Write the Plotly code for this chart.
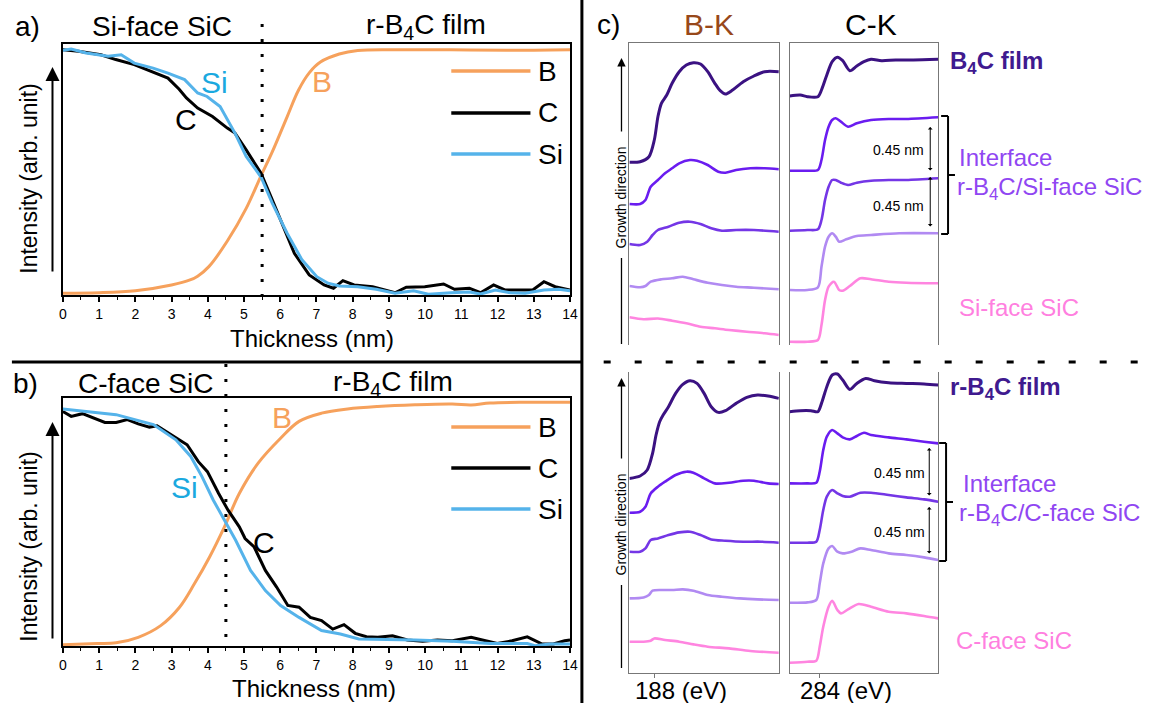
import plotly.graph_objects as go

W, H = 1150, 703
FONT = "Liberation Sans, Arial, sans-serif"

# ---------------- Panel a (Si-face) depth profiles ----------------
a_B_x = [0, 1.0, 2.0, 3.0, 3.51, 3.72, 4.03, 4.54, 5.06, 5.47, 5.78, 6.19, 6.5, 6.8, 7.11, 7.63, 8.14, 9.17, 10.71, 12.25, 14]
a_B_y = [0.007, 0.009, 0.017, 0.040, 0.060, 0.075, 0.113, 0.215, 0.345, 0.475, 0.570, 0.710, 0.815, 0.885, 0.928, 0.960, 0.974, 0.977, 0.977, 0.975, 0.977]

a_C_x = [0, 0.43, 1.05, 1.46, 1.97, 2.38, 2.90, 3.21, 3.41, 3.72, 4.13, 4.54, 4.75, 5.06, 5.47, 5.78, 6.08, 6.39, 6.80,
         7.21, 7.47, 7.73, 8.04, 8.55, 9.17, 9.48, 9.99, 10.51, 10.81, 11.22, 11.53, 11.89, 12.20, 12.97, 13.28, 13.59, 14]
a_C_y = [0.977, 0.971, 0.957, 0.938, 0.918, 0.895, 0.864, 0.820, 0.785, 0.745, 0.711, 0.665, 0.645, 0.578, 0.485, 0.379,
         0.273, 0.166, 0.080, 0.040, 0.027, 0.057, 0.040, 0.033, 0.009, 0.031, 0.033, 0.044, 0.023, 0.027, 0.009, 0.040,
         0.020, 0.020, 0.053, 0.033, 0.020]

a_Si_x = [0, 0.23, 0.64, 1.25, 1.61, 1.97, 2.49, 2.90, 3.36, 3.72, 3.98, 4.34, 4.75, 5.06, 5.47, 5.78, 6.19, 6.60, 7.01,
          7.32, 7.63, 8.14, 8.65, 9.17, 9.68, 10.09, 10.71, 11.22, 11.53, 11.94, 12.35, 12.76, 13.28, 13.69, 14]
a_Si_y = [0.975, 0.980, 0.964, 0.951, 0.957, 0.924, 0.904, 0.884, 0.858, 0.805, 0.791, 0.751, 0.645, 0.552, 0.470, 0.366,
          0.246, 0.140, 0.073, 0.047, 0.036, 0.033, 0.023, 0.007, 0.017, 0.003, 0.009, 0.012, 0.004, 0.020, 0.009, 0.007,
          0.020, 0.023, 0.017]

# ---------------- Panel b (C-face) depth profiles ----------------
b_B_x = [0, 0.95, 1.47, 2.08, 2.70, 3.22, 3.63, 4.05, 4.46, 4.87, 5.39, 6.01, 6.52, 7.14, 7.86, 8.69, 9.72, 10.75, 11.27, 11.79, 12.82, 14]
b_B_y = [0.008, 0.013, 0.016, 0.038, 0.085, 0.159, 0.253, 0.361, 0.482, 0.616, 0.738, 0.838, 0.906, 0.939, 0.956, 0.966,
         0.973, 0.976, 0.972, 0.980, 0.983, 0.983]

b_C_x = [0, 0.23, 0.54, 0.85, 1.16, 1.47, 1.78, 2.08, 2.39, 2.60, 2.91, 3.43, 3.74, 3.99, 4.30, 4.56, 4.87, 5.03, 5.28,
         5.59, 5.90, 6.21, 6.52, 6.83, 7.14, 7.45, 7.76, 8.07, 8.38, 8.69, 9.10, 9.51, 9.93, 10.34, 10.75, 11.27, 11.58,
         11.99, 12.40, 12.82, 13.23, 13.54, 13.85, 14]
b_C_y = [0.946, 0.926, 0.937, 0.919, 0.902, 0.902, 0.913, 0.896, 0.883, 0.888, 0.859, 0.812, 0.744, 0.704, 0.616, 0.549,
         0.482, 0.435, 0.401, 0.307, 0.240, 0.166, 0.159, 0.118, 0.105, 0.071, 0.089, 0.054, 0.040, 0.038, 0.044, 0.027,
         0.022, 0.027, 0.024, 0.038, 0.027, 0.013, 0.024, 0.040, 0.011, 0.011, 0.024, 0.027]

b_Si_x = [0, 1.47, 2.50, 3.12, 3.53, 3.84, 4.15, 4.46, 4.77, 5.18, 5.59, 6.01, 6.52, 7.14, 7.66, 8.17, 8.69, 9.72, 10.75,
          11.79, 12.82, 13.03, 13.44, 14]
b_Si_y = [0.956, 0.933, 0.893, 0.832, 0.765, 0.684, 0.590, 0.509, 0.428, 0.307, 0.226, 0.166, 0.118, 0.065, 0.051, 0.031,
          0.030, 0.027, 0.022, 0.013, 0.013, 0.004, 0.011, 0.011]

# ---------------- Panel c: XAS spectra (offset, arb. units) ----------------
# top: Si-face, B-K edge
tbk1_e = [186, 186.86, 187.57, 188.0, 188.29, 188.57, 189.0, 189.43, 190.0, 190.57, 191.14, 191.71, 192.29, 192.86, 193.29, 193.71, 194.29, 195.14, 196.0, 196.86, 198.0]
tbk1_i = [182.7, 183.3, 188.3, 205, 228.3, 241.7, 250, 261.7, 273.3, 280, 282.3, 281, 273.3, 261.7, 254.3, 251, 255, 263.3, 269, 273.3, 273.3]
tbk2_e = [186, 186.86, 187.29, 187.71, 188.29, 188.86, 189.43, 190, 190.86, 191.43, 192.29, 193.14, 193.71, 194.57, 195.71, 196.86, 198]
tbk2_i = [141, 141, 145, 158.3, 165, 171.7, 176.7, 181.7, 185, 184.3, 180, 173.3, 172.3, 175, 176.7, 176.7, 175.7]
tbk3_e = [186, 186.86, 187.43, 187.86, 188.29, 189.14, 190, 190.86, 191.71, 192.57, 193.43, 194.57, 196, 198]
tbk3_i = [101, 100, 103.3, 110, 115, 118.3, 122.3, 123.3, 121, 116.7, 114.3, 115, 115, 113.3]
tbk4_e = [186, 186.86, 187.29, 187.71, 188.57, 189.43, 190.29, 191.14, 192.29, 193.43, 194.57, 196, 198]
tbk4_i = [59, 57.7, 59, 63.3, 65.7, 66.7, 68.3, 65.7, 62.3, 60, 58.3, 57.3, 55.7]
tbk5_e = [186, 187.14, 188.29, 189.43, 190.57, 191.71, 192.86, 194, 195.43, 196.86, 198]
tbk5_i = [27.7, 25.7, 26.5, 24.3, 21.7, 18.3, 16.7, 15, 13.3, 11.7, 10]

# top: Si-face, C-K edge
tck1_e = [282, 282.71, 283.19, 283.9, 284.14, 284.5, 284.86, 285.21, 285.57, 286.05, 286.52, 287, 287.48, 288.19, 289.14, 290.33, 292]
tck1_i = [249, 250, 248.3, 248.3, 255, 270, 283.3, 287.7, 284.3, 274.3, 279, 283.3, 285.7, 284.3, 285, 285, 285.7]
tck2_e = [282, 283.19, 283.9, 284.14, 284.38, 284.62, 284.86, 285.1, 285.45, 285.93, 286.52, 287.48, 288.67, 289.86, 292]
tck2_i = [174.3, 174.3, 175, 185, 205, 218.3, 225, 226.7, 223.3, 218.3, 221.7, 225, 226, 226, 227.7]
tck3_e = [282, 283.19, 283.9, 284.14, 284.38, 284.62, 284.86, 285.1, 285.45, 285.93, 286.52, 287.48, 288.67, 289.86, 292]
tck3_i = [114.3, 115, 115.7, 125, 145, 158.3, 165, 165, 162.3, 160, 162.3, 164.3, 165, 165, 166.7]
tck4_e = [282, 283.19, 283.9, 284.14, 284.38, 284.62, 284.86, 285.1, 285.33, 285.81, 286.52, 287.48, 289.38, 292]
tck4_i = [55, 55, 57.7, 78.3, 98.3, 108.3, 111.7, 108.3, 103.3, 105.7, 109, 110, 111.7, 111.7]
tck5_e = [282, 283.19, 283.9, 284.14, 284.38, 284.62, 284.98, 285.33, 285.57, 286.05, 286.76, 287.48, 288.67, 289.86, 292]
tck5_i = [3.3, 3.3, 5, 20, 45, 58.3, 63.3, 55, 54.3, 59, 66.7, 65.7, 63.3, 62.3, 61.7]

# bottom: C-face, B-K edge
bbk1_e = [186, 186.86, 187.43, 187.86, 188.14, 188.43, 188.71, 189.14, 189.71, 190.29, 190.86, 191.43, 192, 192.57, 193.14, 193.71, 194.57, 195.43, 196.29, 197.14, 198]
bbk1_i = [194.3, 196.7, 202.7, 219.3, 237.7, 251, 257.7, 266, 279.3, 288.3, 292, 289.3, 279.3, 266, 260.3, 262, 269.3, 275.3, 277.7, 276.7, 274.3]
bbk2_e = [186, 186.86, 187.29, 187.71, 188.29, 188.86, 189.71, 190.57, 191.14, 192, 192.86, 194, 195.14, 196, 197.14, 198]
bbk2_i = [160, 161, 166, 179.3, 186, 191, 197.7, 201, 200, 194.3, 189.3, 190, 192, 192, 189.3, 188.7]
bbk3_e = [186, 186.86, 187.29, 187.71, 188.29, 189.14, 190, 190.86, 191.71, 192.57, 193.71, 195.14, 196.57, 198]
bbk3_i = [121, 121, 124.3, 132.7, 134.3, 137.7, 140.3, 141, 137.7, 133.3, 132, 131, 131, 130]
bbk4_e = [186, 187.14, 187.57, 187.86, 188.57, 189.43, 190.29, 191.14, 192.29, 193.43, 194.86, 196.29, 198]
bbk4_i = [74.3, 75.3, 77.7, 82, 82.7, 82.7, 83.3, 82, 77.7, 76, 74.3, 73.3, 72.7]
bbk5_e = [186, 187.14, 187.71, 188, 188.86, 190, 191.14, 192.29, 194, 195.71, 198]
bbk5_i = [31, 31, 32, 34.3, 32.7, 31, 28.3, 26, 24.3, 21.7, 20]

# bottom: C-face, C-K edge
bck1_e = [282, 282.71, 283.43, 283.9, 284.14, 284.5, 284.86, 285.21, 285.57, 286.05, 286.52, 287.12, 287.71, 288.67, 289.86, 291.05, 292]
bck1_i = [261, 262, 262, 261, 269.3, 286, 297.7, 298.7, 292.7, 283.3, 289.3, 294.3, 292, 290, 289.3, 288.7, 287.7]
bck2_e = [282, 283.19, 283.79, 284.02, 284.26, 284.5, 284.86, 285.21, 285.57, 286.05, 286.52, 287, 287.48, 288.67, 289.86, 291.05, 292]
bck2_i = [189.3, 189.3, 190, 201, 222.7, 236, 242.7, 239.3, 235.3, 233.3, 236.7, 240, 237.7, 235.3, 233.3, 231, 229.3]
bck3_e = [282, 283.19, 283.79, 284.02, 284.26, 284.5, 284.86, 285.21, 285.57, 286.05, 286.76, 287.48, 288.67, 289.86, 291.05, 292]
bck3_i = [130, 130, 131, 142.7, 162.7, 176, 182.7, 179.3, 176.7, 176, 180, 180, 177.7, 175.3, 173.3, 171]
bck4_e = [282, 283.19, 283.79, 284.02, 284.26, 284.62, 284.86, 285.21, 285.57, 286.17, 286.76, 287.48, 288.67, 289.86, 291.05, 292]
bck4_i = [70, 70.3, 72.7, 89.3, 109.3, 124.3, 126.7, 121, 119.3, 121, 124.3, 122.7, 119.3, 117.7, 115.3, 112.7]
bck5_e = [282, 283.19, 283.79, 284.02, 284.26, 284.62, 284.86, 285.21, 285.45, 285.93, 286.64, 287.48, 288.67, 289.86, 291.05, 292]
bck5_i = [10, 11, 12, 26, 46, 66, 72, 62.7, 59.3, 63.3, 68.7, 66, 61, 59.3, 56.7, 54.3]

BK_RANGE = [186, 198]
CK_RANGE = [282, 292]
BK_TICK = [188]
CK_TICK = [284]
BK_LABEL = "188 (eV)"
CK_LABEL = "284 (eV)"

ORANGE = "#f6a15c"
BLACK = "#000000"
BLUE = "#55b3ea"
SI_TXT = "#1aa9df"
SPEC_COLORS = ["#3b1282", "#6a1cf0", "#7436e6", "#b18af2", "#ff85e0"]
SPEC_WIDTHS = [3, 2.6, 2.6, 2.6, 2.6]
FILM_C = "#3f1a8f"
INTF_C = "#9046f2"
SIC_C = "#ff7fe0"
FRAME_C = "#777777"


def X(p):
    return p / W


def Y(p):
    return 1 - p / H


fig = go.Figure()

# profile traces
for xa, ya, xs, ys, col, shp in [
    ("x", "y", a_B_x, a_B_y, ORANGE, "spline"),
    ("x", "y", a_C_x, a_C_y, BLACK, "linear"),
    ("x", "y", a_Si_x, a_Si_y, BLUE, "linear"),
    ("x2", "y2", b_B_x, b_B_y, ORANGE, "spline"),
    ("x2", "y2", b_C_x, b_C_y, BLACK, "linear"),
    ("x2", "y2", b_Si_x, b_Si_y, BLUE, "linear"),
]:
    fig.add_trace(go.Scatter(x=xs, y=ys, mode="lines", xaxis=xa, yaxis=ya,
                             line=dict(color=col, width=3, shape=shp), showlegend=False, hoverinfo="skip"))

spectra = [
    ("x3", "y3", [(tbk1_e, tbk1_i), (tbk2_e, tbk2_i), (tbk3_e, tbk3_i), (tbk4_e, tbk4_i), (tbk5_e, tbk5_i)]),
    ("x4", "y4", [(tck1_e, tck1_i), (tck2_e, tck2_i), (tck3_e, tck3_i), (tck4_e, tck4_i), (tck5_e, tck5_i)]),
    ("x5", "y5", [(bbk1_e, bbk1_i), (bbk2_e, bbk2_i), (bbk3_e, bbk3_i), (bbk4_e, bbk4_i), (bbk5_e, bbk5_i)]),
    ("x6", "y6", [(bck1_e, bck1_i), (bck2_e, bck2_i), (bck3_e, bck3_i), (bck4_e, bck4_i), (bck5_e, bck5_i)]),
]
for xa, ya, curves in spectra:
    for k, (e, inten) in enumerate(curves):
        fig.add_trace(go.Scatter(x=e, y=inten, mode="lines", xaxis=xa, yaxis=ya,
                                 line=dict(color=SPEC_COLORS[k], width=SPEC_WIDTHS[k], shape="spline", smoothing=0.8),
                                 showlegend=False, hoverinfo="skip"))

prof_x = dict(range=[0, 14], showline=True, mirror=True, linecolor="black", linewidth=1.5,
              ticks="outside", ticklen=5, tickwidth=1.5, tickcolor="black", tick0=0, dtick=1,
              minor=dict(ticks="outside", ticklen=3, tickwidth=1.2, dtick=0.5, tickcolor="black"),
              tickfont=dict(size=14, family=FONT, color="black"), showgrid=False, zeroline=False)
prof_y = dict(range=[0, 1], showline=True, mirror=True, linecolor="black", linewidth=1.5,
              ticks="", showticklabels=False, showgrid=False, zeroline=False)

top_x = dict(showline=True, side="top", linecolor=FRAME_C, linewidth=1.3, ticks="", showticklabels=False,
             showgrid=False, zeroline=False)
bot_x = dict(showline=True, side="bottom", linecolor=FRAME_C, linewidth=1.3, ticks="outside", ticklen=4,
             tickcolor=FRAME_C, tickwidth=1.3, showticklabels=False, showgrid=False, zeroline=False)
spec_y = dict(showline=True, mirror=True, linecolor=FRAME_C, linewidth=1.3, ticks="", showticklabels=False,
              showgrid=False, zeroline=False)

fig.update_layout(
    width=W, height=H, margin=dict(l=0, r=0, t=0, b=0),
    paper_bgcolor="white", plot_bgcolor="white", showlegend=False,
    font=dict(family=FONT, color="black"),
    xaxis=dict(prof_x, domain=[X(59.5), X(572)], anchor="y"),
    yaxis=dict(prof_y, domain=[Y(295), Y(44)], anchor="x"),
    xaxis2=dict(prof_x, domain=[X(59.5), X(572)], anchor="y2"),
    yaxis2=dict(prof_y, range=[0.003, 1], domain=[Y(646), Y(398)], anchor="x2"),
    xaxis3=dict(top_x, range=BK_RANGE, domain=[X(632), X(783)], anchor="y3"),
    yaxis3=dict(spec_y, range=[0, 301.7], domain=[Y(345), Y(43.3)], anchor="x3"),
    xaxis4=dict(top_x, range=CK_RANGE, domain=[X(794), X(944)], anchor="y4"),
    yaxis4=dict(spec_y, range=[0, 301.7], domain=[Y(345), Y(43.3)], anchor="x4"),
    xaxis5=dict(bot_x, range=BK_RANGE, domain=[X(632), X(783)], anchor="y5", tickvals=BK_TICK),
    yaxis5=dict(spec_y, range=[0, 301], domain=[Y(672.7), Y(371.7)], anchor="x5"),
    xaxis6=dict(bot_x, range=CK_RANGE, domain=[X(794), X(944)], anchor="y6", tickvals=CK_TICK),
    yaxis6=dict(spec_y, range=[0, 301], domain=[Y(672.7), Y(371.7)], anchor="x6"),
)

shapes = []


def pline(x0, y0, x1, y1, color="black", width=2, dash=None):
    d = dict(color=color, width=width)
    if dash:
        d["dash"] = dash
    shapes.append(dict(type="line", xref="paper", yref="paper", x0=X(x0), y0=Y(y0), x1=X(x1), y1=Y(y1), line=d))


# separators
pline(584, 0, 584, 703, width=3)
pline(8, 362, 584, 362, width=3)
pline(606, 362, 1150, 362, width=3, dash="7px,24px")

# interface dotted lines (data x)
shapes.append(dict(type="line", xref="x", yref="paper", x0=5.5, x1=5.5, y0=Y(297), y1=Y(12),
                   line=dict(color="black", width=3, dash="3px,12px")))
shapes.append(dict(type="line", xref="x2", yref="paper", x0=4.5, x1=4.5, y0=Y(637), y1=Y(363),
                   line=dict(color="black", width=3, dash="3px,12px")))

# legends (drawn)
for yy, col in [(71, ORANGE), (113, BLACK), (154, BLUE)]:
    pline(452, yy, 532, yy, color=col, width=3.5)
for yy, col in [(427, ORANGE), (468, BLACK), (509, BLUE)]:
    pline(452, yy, 532, yy, color=col, width=3.5)

# growth-direction lower segments
pline(624, 258, 624, 344, width=1.3)
pline(624, 585, 624, 668, width=1.3)

# brackets
pline(954, 116, 954, 234, width=2)
pline(947, 116, 954, 116, width=2)
pline(947, 234, 954, 234, width=2)
pline(954, 175, 961, 175, width=2)
pline(952, 443, 952, 561, width=2)
pline(945, 443, 952, 443, width=2)
pline(945, 561, 952, 561, width=2)
pline(952, 502, 959, 502, width=2)

fig.update_layout(shapes=shapes)

ann = []


def ptext(text, x, y, size, color="black", xanchor="center", angle=0, bold=False):
    ann.append(dict(text=("<b>%s</b>" % text) if bold else text, x=X(x), y=Y(y), xref="paper", yref="paper",
                    showarrow=False, xanchor=xanchor, yanchor="middle", textangle=angle,
                    font=dict(size=size, color=color, family=FONT)))


def parrow(x, y_head, length, width=2, size=1.2, head=2):
    ann.append(dict(text="", x=X(x), y=Y(y_head), xref="paper", yref="paper", ax=0, ay=length,
                    axref="pixel", ayref="pixel", showarrow=True, arrowhead=head, arrowsize=size,
                    arrowwidth=width, arrowcolor="black"))


def pdarrow(x, y_top, y_bot):
    ann.append(dict(text="", x=X(x), y=Y(y_top), xref="paper", yref="paper", ax=0, ay=y_bot - y_top,
                    axref="pixel", ayref="pixel", showarrow=True, arrowhead=1, arrowsize=0.8,
                    arrowwidth=1, arrowside="end+start", arrowcolor="black"))


# panel a
ptext("a)", 24, 27, 28)
ptext("Si-face SiC", 160, 27, 28)
ptext("r-B<sub>4</sub>C film", 426, 27, 28)
ptext("Intensity (arb. unit)", 25, 179, 23, angle=-90)
ptext("Thickness (nm)", 311, 338, 24)
parrow(49, 67, 206, width=2, size=1.4)
for t, yy in [("B", 71), ("C", 113), ("Si", 154)]:
    ptext(t, 538, yy, 28, xanchor="left")
# panel b
ptext("b)", 22, 383, 28)
ptext("C-face SiC", 143, 383, 28)
ptext("r-B<sub>4</sub>C film", 393, 383, 28)
ptext("Intensity (arb. unit)", 25, 547, 23, angle=-90)
ptext("Thickness (nm)", 313, 688, 24)
parrow(49, 422, 218, width=2, size=1.4)
for t, yy in [("B", 427), ("C", 468), ("Si", 509)]:
    ptext(t, 538, yy, 28, xanchor="left")

# in-plot element labels (data coords)
for xa, ya, t, xx, yy, col in [
    ("x", "y", "Si", 4.18, 0.845, SI_TXT), ("x", "y", "C", 3.41, 0.70, BLACK), ("x", "y", "B", 7.16, 0.85, ORANGE),
    ("x2", "y2", "Si", 3.37, 0.64, SI_TXT), ("x2", "y2", "C", 5.54, 0.42, BLACK), ("x2", "y2", "B", 6.06, 0.92, ORANGE),
]:
    ann.append(dict(text=t, x=xx, y=yy, xref=xa, yref=ya, showarrow=False,
                    font=dict(size=30, color=col, family=FONT)))

# panel c
ptext("c)", 611, 25, 28)
ptext("B-K", 712, 25, 30, color="#97481a")
ptext("C-K", 876, 25, 30)
parrow(624, 58, 75, width=1.3, size=1.3)
ptext("Growth direction", 624, 197, 14, angle=-90)
parrow(624, 378, 82, width=1.3, size=1.3)
ptext("Growth direction", 624, 524, 14, angle=-90)
# energy labels under the bottom spectra, anchored at the tick value
for xa, val, lab in [("x5", BK_TICK[0], BK_LABEL), ("x6", CK_TICK[0], CK_LABEL)]:
    ann.append(dict(text=lab, x=val, y=Y(690), xref=xa, yref="paper", showarrow=False,
                    xanchor="left", xshift=-21, yanchor="middle", font=dict(size=24, color="black", family=FONT)))

pdarrow(936, 127, 172)
pdarrow(936, 177, 228)
pdarrow(935, 448, 497)
pdarrow(935, 507, 555)
ptext("0.45 nm", 932, 150, 14, xanchor="right")
ptext("0.45 nm", 932, 206, 14, xanchor="right")
ptext("0.45 nm", 933, 473, 14, xanchor="right")
ptext("0.45 nm", 933, 532, 14, xanchor="right")

ptext("B<sub>4</sub>C film", 954, 62, 24, color=FILM_C, xanchor="left", bold=True)
ptext("Interface", 963, 157, 24, color=INTF_C, xanchor="left")
ptext("r-B<sub>4</sub>C/Si-face SiC", 961, 188, 24, color=INTF_C, xanchor="left")
ptext("Si-face SiC", 963, 307, 24, color=SIC_C, xanchor="left")
ptext("r-B<sub>4</sub>C film", 954, 388, 24, color=FILM_C, xanchor="left", bold=True)
ptext("Interface", 967, 483, 24, color=INTF_C, xanchor="left")
ptext("r-B<sub>4</sub>C/C-face SiC", 963, 514, 24, color=INTF_C, xanchor="left")
ptext("C-face SiC", 960, 640, 24, color=SIC_C, xanchor="left")

fig.update_layout(annotations=ann)
fig.write_html("out.html")
